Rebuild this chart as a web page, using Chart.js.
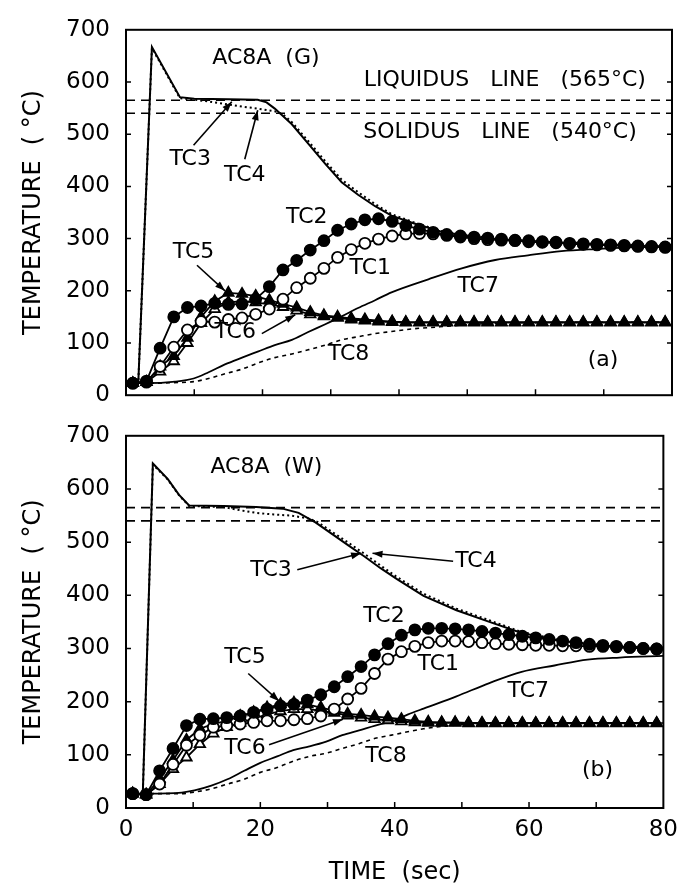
<!DOCTYPE html>
<html>
<head>
<meta charset="utf-8">
<script src="https://cdn.jsdelivr.net/npm/chart.js@4.4.0/dist/chart.umd.min.js"></script>
<style>
  html, body { margin: 0; padding: 0; background: #fff; }
  #wrap { position: relative; width: 686px; height: 888px; }
  #wrap canvas { position: absolute; left: 0; }
  #panelA { top: 0; }
  #panelB { top: 406px; }
</style>
</head>
<body>
<div id="wrap">
  <canvas id="panelA" width="686" height="425"></canvas>
  <canvas id="panelB" width="686" height="482"></canvas>
</div>
<script>
// times (sec) at which the marker curves are plotted
const markTimes = [1, 3, 5, 7, 9, 11, 13, 15, 17, 19,
                   21, 23, 25, 27, 29, 31, 33, 35, 37, 39,
                   41, 43, 45, 47, 49, 51, 53, 55, 57, 59,
                   61, 63, 65, 67, 69, 71, 73, 75, 77, 79];

const liquidus = 565;
const solidus = 540;

// ---- (a) AC8A (G) ----
const tc2a = [23, 27, 90, 150, 168, 171, 176, 174, 175, 184,
              208, 240, 258, 278, 296, 316, 328, 336, 338, 333,
              325, 318, 312, 308, 305, 303, 301, 299, 297, 296,
              294, 293, 291, 290, 289, 288, 287, 286, 285, 284];
const tc1a = [23, 25, 55, 92, 125, 141, 140, 145, 148, 155,
              165, 184, 206, 224, 243, 264, 279, 291, 299, 305,
              309, 310, 309, 306, 303, 300, 298, 297, 296, 294,
              293, 292, 290, 289, 288, 287, 286, 285, 284, 283];
const tc5a = [23, 25, 55, 75, 110, 150, 180, 196, 194, 190,
              182, 175, 168, 159, 153, 150, 147, 145, 143, 141,
              140, 140, 140, 140, 140, 140, 140, 140, 140, 140,
              140, 140, 140, 140, 140, 140, 140, 140, 140, 140];
const tc6a = [23, 25, 45, 65, 100, 138, 165, 178, 180, 178,
              174, 169, 162, 155, 151, 148, 145, 143, 141, 140,
              139, 139, 139, 139, 139, 139, 139, 139, 139, 139,
              139, 139, 139, 139, 139, 139, 139, 139, 139, 139];
const tc3a = [[0, 23], [1.8, 24], [3.8, 667], [7.9, 571], [10, 568], [15, 567], [19.3, 566],
              [20.6, 561], [21.8, 549], [24.3, 519], [26.7, 482], [29.2, 443], [31.6, 408],
              [34, 384], [36.5, 362], [38.9, 344], [42, 330], [46, 314], [50, 305],
              [55, 298], [60, 294], [65, 291], [70, 288], [75, 286], [80, 285]];
const tc4a = [[0, 23], [1.8, 24], [3.8, 665], [7.9, 569], [10, 566], [12, 563], [14.5, 558],
              [17, 553], [19.3, 549], [21.8, 544], [23, 538], [24.3, 523], [26.7, 487],
              [29.2, 448], [31.6, 413], [34, 389], [36.5, 366], [38.9, 347], [42, 332],
              [46, 315], [50, 306], [55, 299], [60, 295], [80, 285]];
const tc7a = [[0, 23], [3, 23], [7.2, 26], [9.9, 32], [12.1, 44], [14.5, 59], [17, 72],
              [19.4, 84], [21.8, 96], [24.3, 106], [26.7, 121], [29.2, 136], [31.6, 151],
              [34, 167], [36.5, 182], [38.9, 197], [44.3, 222], [49.2, 243], [54.1, 259],
              [58.9, 268], [63.8, 276], [68.7, 280], [74, 283], [80, 285]];
const tc8a = [[0, 23], [3, 23], [7, 24], [9.9, 26], [12.1, 32], [14.5, 41], [17, 50],
              [19.4, 62], [21.8, 72], [24.3, 79], [26.7, 87], [29.2, 96], [31.6, 106],
              [34, 112], [36.5, 118], [38.9, 122], [42, 127], [46, 131], [50, 135],
              [55, 138], [60, 139], [80, 140]];

// ---- (b) AC8A (W) ----
const tc2b = [27, 25, 70, 112, 155, 167, 168, 170, 173, 180,
              186, 192, 195, 203, 213, 228, 247, 266, 288, 309,
              325, 335, 338, 338, 337, 335, 332, 329, 326, 323,
              320, 317, 314, 311, 308, 306, 304, 302, 300, 299];
const tc1b = [27, 25, 45, 82, 118, 137, 152, 155, 158, 161,
              164, 164, 166, 168, 173, 186, 205, 225, 253, 280,
              294, 304, 311, 314, 314, 313, 311, 309, 308, 307,
              306, 306, 305, 305, 304, 304, 303, 302, 300, 299];
const tc5b = [27, 25, 55, 90, 128, 149, 158, 164, 173, 180,
              189, 195, 198, 195, 189, 183, 177, 175, 172, 170,
              167, 164, 162, 161, 161, 160, 160, 160, 160, 160,
              160, 160, 160, 160, 160, 160, 160, 160, 160, 160];
const tc6b = [27, 25, 45, 73, 95, 120, 140, 152, 160, 168,
              176, 182, 186, 186, 183, 179, 174, 170, 167, 165,
              163, 161, 160, 160, 160, 159, 159, 159, 159, 159,
              159, 159, 159, 159, 159, 159, 159, 159, 159, 159];
const tc3b = [[0, 27], [2.5, 27], [4.0, 648], [6.2, 619], [7.9, 589], [9.4, 569], [14.5, 568],
              [19.4, 566], [23.3, 563], [25.7, 555], [28.2, 537], [30.6, 516], [33.1, 494],
              [35.5, 473], [37.9, 451], [40.4, 430], [44.3, 399], [49.2, 372], [54.1, 350],
              [58.9, 329], [63.8, 317], [68.7, 308], [73.5, 302], [80, 299]];
const tc4b = [[0, 27], [2.5, 27], [4.0, 646], [6.2, 618], [7.9, 588], [9.4, 568], [14.5, 566],
              [17, 560], [19.4, 555], [22, 552], [24.5, 550], [27, 545], [28.5, 538],
              [30.6, 520], [33.1, 499], [35.5, 478], [37.9, 456], [40.4, 434], [44.3, 403],
              [49.2, 375], [54.1, 353], [58.9, 331], [63.8, 318], [68.7, 309], [80, 300]];
const tc7b = [[0, 27], [3, 27], [8.3, 29], [10.2, 33], [12.7, 42], [15.1, 54], [17.6, 70],
              [20, 85], [22.5, 97], [24.9, 109], [27.3, 116], [29.8, 125], [32.2, 137],
              [34.7, 146], [37.1, 155], [39.5, 163], [42, 176], [44.3, 187], [49.2, 210],
              [54.1, 235], [58.9, 256], [63.8, 268], [68.7, 279], [73.5, 283], [80, 286]];
const tc8b = [[0, 27], [3, 27], [8.3, 27], [10.2, 30], [12.7, 36], [15.1, 45], [17.6, 54],
              [20, 67], [22.5, 76], [24.9, 88], [27.3, 97], [29.8, 103], [32.2, 112],
              [34.7, 121], [37.1, 131], [39.5, 137], [44.3, 149], [48.2, 155], [52, 158],
              [60, 160], [80, 160]];

// text labels and leader arrows, in data units
const notesA = [
  {text: 'AC8A  (G)', x: 20.5, y: 645},
  {text: 'LIQUIDUS   LINE   (565°C)', x: 55.5, y: 603},
  {text: 'SOLIDUS   LINE   (540°C)', x: 54.8, y: 503},
  {text: 'TC3', x: 9.4, y: 452},
  {text: 'TC4', x: 17.4, y: 421},
  {text: 'TC2', x: 26.5, y: 341},
  {text: 'TC5', x: 9.9, y: 274},
  {text: 'TC1', x: 35.8, y: 243},
  {text: 'TC6', x: 16.0, y: 121},
  {text: 'TC7', x: 51.6, y: 209},
  {text: 'TC8', x: 32.6, y: 78},
  {text: '(a)', x: 69.9, y: 66}
];
const arrowsA = [[[9.9, 479], [15.5, 562]], [[17.4, 452], [19.3, 546]],
                 [[10.4, 249], [14.5, 200]], [[19.9, 118], [24.8, 154]]];
const notesB = [
  {text: 'AC8A  (W)', x: 20.9, y: 641},
  {text: 'TC3', x: 21.6, y: 448},
  {text: 'TC4', x: 52.1, y: 464},
  {text: 'TC2', x: 38.4, y: 360},
  {text: 'TC1', x: 46.5, y: 271},
  {text: 'TC5', x: 17.7, y: 283},
  {text: 'TC6', x: 17.7, y: 112},
  {text: 'TC7', x: 59.9, y: 219},
  {text: 'TC8', x: 38.7, y: 97},
  {text: '(b)', x: 70.2, y: 70}
];
const arrowsB = [[[25.5, 448], [35.0, 479]], [[48.7, 464], [36.7, 479]],
                 [[18.2, 253], [22.8, 201]], [[21.3, 119], [32.3, 167]]];

Chart.defaults.font.family = '"DejaVu Sans", sans-serif';
Chart.defaults.font.size = 23;
Chart.defaults.color = '#000';

function markerSet(label, temps, style, filled) {
  return {
    label: label,
    data: markTimes.map((t, i) => ({x: t, y: temps[i]})),
    borderColor: '#000', borderWidth: 1.8, tension: 0,
    pointStyle: style, pointRadius: style === 'triangle' ? 6 : 5.5,
    pointBackgroundColor: filled ? '#000' : '#fff',
    pointBorderColor: '#000', pointBorderWidth: 1.8
  };
}

function lineSet(label, pts, dash, width, smooth) {
  const ds = {
    label: label,
    data: pts.map(p => ({x: p[0], y: p[1]})),
    borderColor: '#000', borderWidth: width, borderDash: dash,
    pointRadius: 0, tension: 0
  };
  if (smooth) ds.cubicInterpolationMode = 'monotone';
  return ds;
}

function levelSet(label, value) {
  return {
    label: label,
    data: [{x: 0, y: value}, {x: 80, y: value}],
    borderColor: '#000', borderWidth: 1.6, borderDash: [9, 6], pointRadius: 0
  };
}

function arrow(ctx, x1, y1, x2, y2) {
  ctx.beginPath(); ctx.moveTo(x1, y1); ctx.lineTo(x2, y2); ctx.stroke();
  const a = Math.atan2(y2 - y1, x2 - x1), L = 10, W = 3.5;
  ctx.beginPath();
  ctx.moveTo(x2, y2);
  ctx.lineTo(x2 - L * Math.cos(a) + W * Math.sin(a), y2 - L * Math.sin(a) - W * Math.cos(a));
  ctx.lineTo(x2 - L * Math.cos(a) - W * Math.sin(a), y2 - L * Math.sin(a) + W * Math.cos(a));
  ctx.closePath(); ctx.fill();
}

// frame, inside ticks, labels and arrows
const paperPlugin = {
  id: 'paper',
  afterDatasetsDraw(chart, args, opts) {
    const {ctx, chartArea: a} = chart;
    const sx = chart.scales.x, sy = chart.scales.y;
    ctx.save();
    ctx.strokeStyle = '#000';
    ctx.fillStyle = '#000';
    ctx.lineWidth = 2;
    ctx.strokeRect(a.left, a.top, a.right - a.left, a.bottom - a.top);
    ctx.lineWidth = 1.5;
    ctx.beginPath();
    for (let t = 10; t < 80; t += 10) {
      const px = sx.getPixelForValue(t);
      ctx.moveTo(px, a.bottom); ctx.lineTo(px, a.bottom - 6);
    }
    for (let v = 100; v < 700; v += 100) {
      const py = sy.getPixelForValue(v);
      ctx.moveTo(a.left, py); ctx.lineTo(a.left + 5, py);
      ctx.moveTo(a.right, py); ctx.lineTo(a.right - 5, py);
    }
    ctx.stroke();

    ctx.font = '22px "DejaVu Sans", sans-serif';
    ctx.textAlign = 'center';
    ctx.textBaseline = 'middle';
    opts.notes.forEach(n => {
      ctx.fillText(n.text, sx.getPixelForValue(n.x), sy.getPixelForValue(n.y));
    });
    ctx.lineWidth = 1.6;
    opts.arrows.forEach(ar => {
      arrow(ctx, sx.getPixelForValue(ar[0][0]), sy.getPixelForValue(ar[0][1]),
                 sx.getPixelForValue(ar[1][0]), sy.getPixelForValue(ar[1][1]));
    });
    ctx.restore();
  }
};

function makePanel(id, sets, notes, arrows, showX, topPad, xHeight) {
  return new Chart(document.getElementById(id), {
    type: 'line',
    data: {datasets: sets},
    plugins: [paperPlugin],
    options: {
      responsive: false,
      animation: false,
      events: [],
      layout: {padding: {left: 8, right: 14, top: topPad, bottom: 0}},
      plugins: {
        legend: {display: false},
        tooltip: {enabled: false},
        paper: {notes: notes, arrows: arrows}
      },
      scales: {
        x: {
          type: 'linear', min: 0, max: 80,
          grid: {display: false, drawTicks: false},
          border: {display: false},
          ticks: {display: showX, stepSize: 20, padding: 8},
          title: {display: showX, text: 'TIME  (sec)', font: {size: 24}, padding: {top: 0, bottom: 1}},
          afterFit: s => { s.height = xHeight; }
        },
        y: {
          type: 'linear', min: 0, max: 700,
          grid: {display: false, drawTicks: false},
          border: {display: false},
          ticks: {stepSize: 100, padding: 16},
          title: {display: true, text: 'TEMPERATURE  ( °C)', font: {size: 24}, padding: {top: 11, bottom: 0}},
          afterFit: s => { s.width = 118; }
        }
      }
    }
  });
}

makePanel('panelA', [
  markerSet('TC2', tc2a, 'circle', true),
  markerSet('TC1', tc1a, 'circle', false),
  markerSet('TC5', tc5a, 'triangle', true),
  markerSet('TC6', tc6a, 'triangle', false),
  lineSet('TC3', tc3a, [], 2, false),
  lineSet('TC4', tc4a, [2, 3], 2, false),
  lineSet('TC7', tc7a, [], 1.8, true),
  lineSet('TC8', tc8a, [4, 4], 1.6, true),
  levelSet('Liquidus', liquidus),
  levelSet('Solidus', solidus)
], notesA, arrowsA, false, 18, 26);

makePanel('panelB', [
  markerSet('TC2', tc2b, 'circle', true),
  markerSet('TC1', tc1b, 'circle', false),
  markerSet('TC5', tc5b, 'triangle', true),
  markerSet('TC6', tc6b, 'triangle', false),
  lineSet('TC3', tc3b, [], 2, false),
  lineSet('TC4', tc4b, [2, 3], 2, false),
  lineSet('TC7', tc7b, [], 1.8, true),
  lineSet('TC8', tc8b, [4, 4], 1.6, true),
  levelSet('Liquidus', liquidus),
  levelSet('Solidus', solidus)
], notesB, arrowsB, true, 20, 80);
</script>
</body>
</html>
